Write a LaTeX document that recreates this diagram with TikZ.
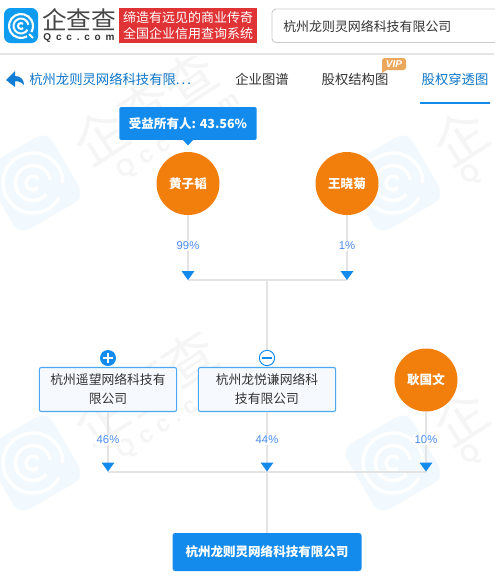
\documentclass[tikz,border=0pt]{standalone}
\usepackage{fontspec}
\setmainfont{Noto Sans CJK SC}
\newfontfamily\latinf{Liberation Sans}
\definecolor{qblue}{HTML}{128BED}
\definecolor{qorange}{HTML}{F27F0C}
\definecolor{qline}{HTML}{E3E3E3}
\definecolor{wmblue}{HTML}{F1F8FE}
\definecolor{wmgrey}{HTML}{F5F5F5}
\definecolor{qtext}{HTML}{333333}
\definecolor{pct}{HTML}{4A8CF0}
\definecolor{qred}{HTML}{E03336}
\definecolor{vipc}{HTML}{EBA75B}
\tikzset{
 px/.style={x=0.75pt,y=-0.75pt},
 person/.style={circle,fill=qorange,minimum size=47.25pt,inner sep=0pt,text=white,font=\fontsize{9.4pt}{11pt}\selectfont\bfseries},
 firm/.style={draw=qblue!75,line width=0.8pt,fill=qblue!4,rounded corners=1.5pt,minimum width=103pt,minimum height=33pt,inner sep=0pt,align=center,text=qtext,font=\fontsize{9.6pt}{14.2pt}\selectfont},
 target/.style={fill=qblue,rounded corners=2pt,minimum width=141.75pt,minimum height=28.5pt,inner sep=0pt,text=white,font=\fontsize{9.4pt}{11pt}\selectfont\bfseries},
 tag/.style={fill=qblue,rounded corners=1pt,minimum width=103pt,minimum height=24.5pt,inner sep=0pt,text=white,font=\fontsize{9.4pt}{11pt}\selectfont\bfseries},
 conn/.style={qline,line width=1.5pt},
 conn2/.style={qline,line width=1.2pt},
 tip/.style={fill=qblue,draw=none},
 pctlabel/.style={fill=white,inner sep=1pt,text=pct,font=\latinf\fontsize{8.5pt}{9pt}\selectfont},
 tabtext/.style={inner sep=0pt,text=qtext,font=\fontsize{10pt}{12pt}\selectfont},
 wmlogo/.style={fill=wmblue,rounded corners=9pt,draw=none},
 wmring/.style={draw=white,line width=2.6pt,fill=none},
 wmtext/.style={inner sep=0pt,text=wmgrey,font=\fontsize{40pt}{40pt}\selectfont},
 wmsmall/.style={inner sep=0pt,text=wmgrey,font=\latinf\fontsize{18pt}{18pt}\selectfont\bfseries},
}
\newcommand{\wmark}[2]{%
 \fill[wmlogo,rotate around={30:(#1,#2)}] (#1-38,#2-38) rectangle (#1+38,#2+38);
 \draw[wmring] (#1,#2) ++(30:30) arc[start angle=30,end angle=360,radius=30];
 \draw[wmring] (#1,#2) ++(40:17.5) arc[start angle=40,end angle=350,radius=17.5];
 \draw[wmring] (#1,#2) ++(45:7) arc[start angle=45,end angle=320,radius=7];
}
\newcommand{\wmtextblock}[2]{%
 \node[wmtext,rotate=33,anchor=center] at (#1+45,#2-30) {企查查};
 \node[wmsmall,rotate=33,anchor=center] at (#1+79,#2-1) {Q\hspace{5pt}c\hspace{5pt}c\hspace{5pt}.\hspace{5pt}c\hspace{5pt}o\hspace{5pt}m};
}
\newcommand{\wmedge}[2]{%
 \node[wmtext,rotate=33,anchor=center] at (#1,#2) {企};
 \node[wmsmall,rotate=33,anchor=center] at (#1+11,#2+38) {Q};
}
\begin{document}
\begin{tikzpicture}[px]
\useasboundingbox (0,0) rectangle (494,576);
\fill[white] (0,0) rectangle (494,576);
% watermarks
\begin{scope}
\clip (0,56) rectangle (494,576);
\wmark{33}{183}\wmark{393}{183}\wmark{33}{463}\wmark{393}{463}
\wmtextblock{100}{137}
\wmtextblock{100}{417}
\wmedge{460}{137}
\wmedge{460}{417}
\end{scope}
% header logo
\fill[qblue!85!cyan,rounded corners=5pt] (4,8) rectangle (38,43);
\draw[white,line width=1.6pt] (21,26) ++(60:12) arc[start angle=60,end angle=390,radius=12];
\draw[white,line width=1.5pt] (29,34) -- (33,38);
\draw[white,line width=1.5pt] (21,26) ++(30:7.5) arc[start angle=30,end angle=350,radius=7.5];
\draw[white,line width=1.5pt] (21,26) ++(45:3) arc[start angle=45,end angle=315,radius=3];
\node[inner sep=0pt,text=qtext!90,font=\fontsize{18.5pt}{20pt}\selectfont] (brand) at (79,20) {企查查};
\node[inner sep=0pt,text=qtext,font=\latinf\fontsize{7.5pt}{9pt}\selectfont\bfseries] (brandq) at (79,37.5) {Q\hspace{3.6pt}c\hspace{3.6pt}c\hspace{3.6pt}.\hspace{3.6pt}c\hspace{3.6pt}o\hspace{3.6pt}m};
\fill[qred] (119,8) rectangle (257,43);
\node[inner sep=0pt,text=white,align=center,font=\fontsize{9.75pt}{12pt}\selectfont] (slogan) at (188,25.5) {缔造有远见的商业传奇\\全国企业信用查询系统};
\draw[black!20,line width=0.7pt,rounded corners=3pt] (500,9) -- (272,9) -- (272,42.5) -- (500,42.5);
\node[inner sep=0pt,anchor=west,text=qtext,font=\fontsize{9.7pt}{12pt}\selectfont] (search) at (283,27) {杭州龙则灵网络科技有限公司};
\draw[black!10,line width=0.8pt] (0,54) -- (494,54);
% tabs
\fill[qblue!90!black] (6,80) -- (15,71) -- (15,76) .. controls (21,76) and (24,80) .. (24,85) .. controls (21,82) and (19,81) .. (15,81.5) -- (15,87) -- cycle;
\node[tabtext,anchor=west,text=qblue!85!black] (back) at (29,79.5) {杭州龙则灵网络科技有限.\hspace{1.5pt}.\hspace{1.5pt}.};
\node[tabtext] (t1) at (262,79.5) {企业图谱};
\node[tabtext] (t2) at (355,79.5) {股权结构图};
\node[tabtext,text=qblue!85!black] (t3) at (455,79.5) {股权穿透图};
\fill[vipc,rounded corners=2pt] (382,58) rectangle (406,70);
\fill[vipc] (382,67) -- (382,73) -- (388,69) -- cycle;
\node[inner sep=0pt,text=white,font=\latinf\fontsize{7.5pt}{8pt}\selectfont\bfseries\itshape] (vip) at (394,64) {VIP};
\draw[qblue,line width=1.5pt] (420,103) -- (490,103);
% nodes
\node[person] (p1) at (188,183.5) {黄子韬};
\node[person] (p2) at (347,183.5) {王晓菊};
\node[firm] (f1) at (108,389.5) {杭州遥望网络科技有\\限公司};
\node[firm] (f2) at (267,389.5) {杭州龙悦谦网络科\\技有限公司};
\node[person] (p3) at (426,380) {耿国文};
\node[target] (tg) at (267,552) {杭州龙则灵网络科技有限公司};
\node[tag] (tagn) at (188,123.5) {受益所有人: 43.56\%};
\fill[qblue] (183,140) -- (193,140) -- (188,145.5) -- cycle;
\coordinate (j1) at (188,280);
\coordinate (j2) at (347,280);
\coordinate (jm) at (267,280);
\coordinate (k1) at (108,471.5);
\coordinate (k2) at (267,471.5);
\coordinate (k3) at (426,471.5);
% connectors
\draw[conn2] (p1) -- (j1);
\draw[conn2] (p2) -- (j2);
\draw[conn] (j1) -- (j2);
\draw[conn] (jm) -- (f2);
\draw[conn2] (f1) -- (k1);
\draw[conn2] (f2) -- (k2);
\draw[conn2] (p3) -- (k3);
\draw[conn] (k1) -- (k3);
\draw[conn] (k2) -- (tg);
% arrow tips
\foreach \a/\b in {188/280,347/280,108/471.5,267/471.5,426/471.5}{
  \fill[tip] (\a-6.5,\b-9) -- (\a+6.5,\b-9) -- (\a,\b) -- cycle;
}
% percentages
\node[pctlabel] (a) at (188,246) {99\%};
\node[pctlabel] (b) at (347,246) {1\%};
\node[pctlabel] (c) at (108,440) {46\%};
\node[pctlabel] (d) at (267,440) {44\%};
\node[pctlabel] (e) at (426,440) {10\%};
% plus / minus
\node[circle,fill=qblue,minimum size=12pt,inner sep=0pt] (plus) at (108,358) {};
\draw[white,line width=0.9pt] (103,358) -- (113,358) (108,353) -- (108,363);
\node[circle,draw=qblue,fill=white,line width=0.7pt,minimum size=11.5pt,inner sep=0pt] (minus) at (267,358) {};
\draw[qblue,line width=0.9pt] (262,358) -- (272,358);
\end{tikzpicture}
\end{document}
